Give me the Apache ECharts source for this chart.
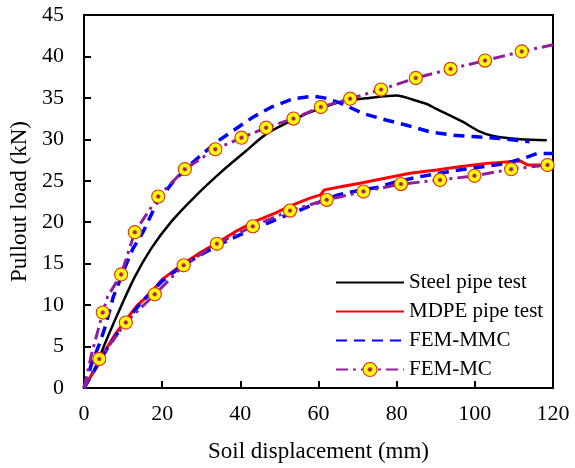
<!DOCTYPE html>
<html>
<head>
<meta charset="utf-8">
<script src="https://cdn.jsdelivr.net/npm/echarts@6/dist/echarts.min.js"></script>
<style>
  html, body { margin: 0; padding: 0; background: #fff; }
  #chart { width: 575px; height: 468px; }
</style>
</head>
<body>
<div id="chart"></div>
<script>
// values: [displacement mm, load kN]
var steelTest = [[0,0],[3,2.6],[5.4,5.4],[8.3,8.6],[13,13.4],[17.3,16.9],[22.4,20.1],[28.4,23.1],[35.2,26.1],[41.2,28.5],[46.5,30.6],[52,32],[56,32.9],[60.4,33.7],[65.5,34.5],[73,35],[80,35.3],[84,34.8],[88,34.2],[90,33.7],[94,32.8],[97,32.1],[101,31],[104.7,30.4],[111.6,30],[118.4,29.9]];
var mdpeTest = [[0,0],[2.5,2],[5,4.2],[8,6.5],[10.9,8.3],[13.5,9.9],[16.5,11.2],[20,13.1],[25.4,15],[30,16.4],[34.4,17.6],[38.5,18.8],[43.3,20],[48.9,21.1],[53,22],[57.8,22.9],[60.5,23.3],[61.5,23.9],[66,24.3],[70.6,24.7],[77,25.3],[83.4,25.9],[90.2,26.3],[96,26.7],[103,27.1],[111.6,27.4],[113.5,26.9],[120,26.9]];
var mmcSteel = [[0,0],[2,3],[4.1,5.5],[5.5,7.5],[7.5,11],[10,14],[12.5,16.8],[15.2,18.9],[18.6,22.3],[23,25],[28,27.3],[34,29.7],[38,31],[43.3,32.7],[48,33.9],[53.6,34.9],[58.7,35.2],[61.5,35],[65.5,34.4],[71.5,33.1],[77.5,32.3],[82.6,31.7],[88.5,30.9],[94.5,30.5],[100.5,30.3],[106.4,30.1],[114,29.7]];
var mmcMdpe = [[0,0],[3,2.4],[6,4.8],[10,7.6],[15,10.5],[20,12.9],[25,14.7],[30,16.1],[35,17.4],[40,18.5],[45,19.5],[50,20.5],[55,21.4],[60,22.4],[65,23.3],[70,23.8],[75,24.2],[80,24.9],[86,25.5],[92,26],[96,26.3],[102,26.7],[108,27.1],[113,27.8],[116,28.3],[120,28.3]];
var mcSteel = [[0,0],[2,4.2],[4.8,9.1],[6,11],[9.5,13.7],[13,18.8],[19,23.1],[25.8,26.4],[33.6,28.8],[40.3,30.2],[46.6,31.4],[53.6,32.5],[60.6,33.9],[68.1,34.9],[76,36],[84.9,37.4],[93.8,38.5],[102.6,39.5],[112,40.6],[120,41.4]];
var mcMdpe = [[0,0],[3.9,3.5],[10.7,7.9],[18.1,11.3],[25.5,14.8],[34,17.4],[43.2,19.5],[52.7,21.4],[62.1,22.7],[71.5,23.7],[81.1,24.6],[91.1,25.1],[99.9,25.6],[109.3,26.4],[118.6,26.9],[120,27.3]];
// points of the MC curves that carry a marker
var mcSteelMarked = [4.8,9.5,13,19,25.8,33.6,40.3,46.6,53.6,60.6,68.1,76,84.9,93.8,102.6,112];
var mcMdpeMarked = [3.9,10.7,18.1,25.5,34,43.2,52.7,62.1,71.5,81.1,91.1,99.9,109.3,118.6];
var legendNames = ['Steel pipe test', 'MDPE pipe test', 'FEM-MMC', 'FEM-MC'];

var font = 'Liberation Serif, Times New Roman, serif';

var markerSvg = "<svg xmlns='http://www.w3.org/2000/svg' width='32' height='32'>" +
  "<circle cx='16' cy='16' r='14' fill='#FFFF00' stroke='#E0301C' stroke-width='2.4'/>" +
  "<circle cx='16' cy='16' r='4.2' fill='#9C1F6A' stroke='#E65050' stroke-width='1.4'/></svg>";
var marker = 'image://data:image/svg+xml;charset=utf-8,' + encodeURIComponent(markerSvg);

function withMarkers(points, marked) {
  return points.map(function (p) {
    if (marked.indexOf(p[0]) >= 0) return { value: p };
    return { value: p, symbol: 'none' };
  });
}

// plain lines get no dot in the legend
var legendData = legendNames.map(function (n) {
  if (n === 'FEM-MC') return { name: n };
  return { name: n, itemStyle: { opacity: 0 } };
});

var chart = echarts.init(document.getElementById('chart'));

chart.setOption({
  animation: false,
  grid: {
    left: 84, right: 22, top: 15, bottom: 76,
    show: true, borderColor: '#000', borderWidth: 2
  },
  legend: {
    data: legendData,
    orient: 'vertical',
    left: 330, top: 267,
    itemWidth: 68, itemHeight: 20, itemGap: 8,
    textStyle: { fontFamily: font, fontSize: 21, color: '#000' }
  },
  xAxis: {
    type: 'value', min: 0, max: 120, interval: 20,
    name: 'Soil displacement (mm)', nameLocation: 'middle', nameGap: 52,
    nameTextStyle: { fontFamily: font, fontSize: 23, color: '#000' },
    axisLine: { lineStyle: { color: '#000', width: 2 } },
    axisTick: { inside: true, length: 7, lineStyle: { color: '#000', width: 2 } },
    axisLabel: { fontFamily: font, fontSize: 22, color: '#000', margin: 15 },
    splitLine: { show: false }
  },
  yAxis: {
    type: 'value', min: 0, max: 45, interval: 5,
    name: 'Pullout load (kN)', nameLocation: 'middle', nameGap: 53, nameRotate: 90,
    nameTextStyle: { fontFamily: font, fontSize: 23, color: '#000' },
    axisLine: { lineStyle: { color: '#000', width: 2 } },
    axisTick: { inside: true, length: 7, lineStyle: { color: '#000', width: 2 } },
    axisLabel: { fontFamily: font, fontSize: 22, color: '#000', margin: 20 },
    splitLine: { show: false }
  },
  series: [
    {
      name: 'Steel pipe test', type: 'line', data: steelTest, symbol: 'none', smooth: 0.3,
      lineStyle: { color: '#000', width: 2.5 }, itemStyle: { color: '#000' }
    },
    {
      name: 'MDPE pipe test', type: 'line', data: mdpeTest, symbol: 'none',
      lineStyle: { color: '#FF0000', width: 3 }, itemStyle: { color: '#FF0000' }
    },
    {
      name: 'FEM-MMC', type: 'line', data: mmcSteel, symbol: 'none',
      lineStyle: { color: '#0000FF', width: 3.5, type: [11, 7] }, itemStyle: { color: '#0000FF' }
    },
    {
      name: 'FEM-MMC', type: 'line', data: mmcMdpe, symbol: 'none',
      lineStyle: { color: '#0000FF', width: 3.5, type: [11, 7] }, itemStyle: { color: '#0000FF' }
    },
    {
      name: 'FEM-MC', type: 'line', data: withMarkers(mcSteel, mcSteelMarked),
      symbol: marker, symbolSize: 15, showAllSymbol: true,
      lineStyle: { color: '#8E1E9C', width: 3, type: [12, 5, 3, 5] }, itemStyle: { color: '#8E1E9C' }
    },
    {
      name: 'FEM-MC', type: 'line', data: withMarkers(mcMdpe, mcMdpeMarked),
      symbol: marker, symbolSize: 15, showAllSymbol: true,
      lineStyle: { color: '#8E1E9C', width: 3, type: [12, 5, 3, 5] }, itemStyle: { color: '#8E1E9C' }
    }
  ]
});
</script>
</body>
</html>
